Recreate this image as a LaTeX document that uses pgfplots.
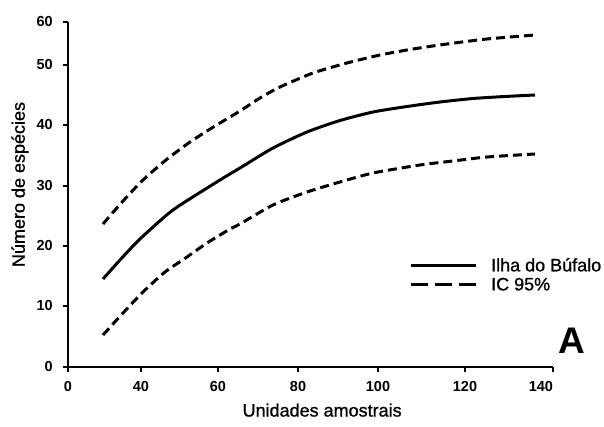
\documentclass[border=0pt]{standalone}
\usepackage{fontspec}
\setmainfont{Liberation Sans}
\newfontfamily\labelfont[FakeBold=1]{Liberation Sans}
\usepackage{pgfplots}
\pgfplotsset{compat=1.18}
\begin{document}
\begin{tikzpicture}
\begin{axis}[
  scale only axis, width=485pt, height=345pt,
  xmin=0, xmax=485, ymin=0, ymax=345,
  clip=false,
  axis x line*=bottom, axis y line*=left,
  axis line style={line width=2.5pt, -},
  tick style={line width=1.4pt, black},
  major tick length=5pt, tick align=outside,
  xtick={0,73,150,230,310,397,485},
  xticklabels={0,40,60,80,100,120,{\makebox[0pt][r]{140}}},
  ytick={0,61,121,181,242,302,345},
  yticklabels={0,10,20,30,40,50,60},
  ticklabel style={font=\fontsize{14.5}{15}\selectfont\bfseries, inner sep=0pt},
  xticklabel shift=9pt, yticklabel shift=10pt,
  xlabel={Unidades amostrais},
  ylabel={Número de espécies},
  every axis x label/.style={at={(axis description cs:0.524,-0.125)}, anchor=center, font=\fontsize{18}{18}\labelfont},
  every axis y label/.style={at={(axis description cs:-0.099,0.529)}, rotate=90, anchor=center, font=\fontsize{18}{18}\labelfont},
  legend style={at={(axis description cs:0.703,0.2667)}, anchor=west, draw=none, fill=none, inner sep=0pt,
    row sep=5pt, column sep=14pt, font=\fontsize{18}{18}\labelfont, nodes={inner sep=0pt}},
  legend cell align=left,
  legend image code/.code={\draw[#1] (0pt,0pt) -- (65pt,0pt);},
]
% upper 95% CI
\addplot[black, line width=3pt, dash pattern=on 9pt off 5pt, smooth, tension=0.4, forget plot] coordinates {
(35,143) (55,166) (75,187) (98,207) (122,225) (147,241) (172,256) (192,269) (212,280)
(245,294) (279,304) (312,312) (345,318) (379,323) (419,328) (467,332)};
% mean curve
\addplot[black, line width=3pt, smooth, tension=0.4, forget plot] coordinates {
(35,88) (52,107) (72,128) (105,157) (152,187) (172,199) (205,219) (239,235) (272,246.5)
(305,255) (339,260.5) (372,265) (405,268.5) (437,270.5) (467,272)};
% lower 95% CI
\addplot[black, line width=3pt, dash pattern=on 9pt off 5pt, smooth, tension=0.4, forget plot] coordinates {
(35,32) (55,54) (75,75) (97,95) (119,110) (139,124) (162,138) (172,143) (205,162)
(239,175) (272,185) (305,194) (352,202) (385,206) (419,210) (467,213)};
\addlegendimage{black, line width=3pt}
\addlegendentry{Ilha do Búfalo}
\addlegendimage{black, line width=3pt, dash pattern=on 17pt off 7pt}
\addlegendentry{IC 95\%}
\node[font=\fontsize{37}{37}\selectfont\bfseries] at (axis cs:504,26) {A};
\coordinate (bl) at (rel axis cs:0,0);
\end{axis}
\pgfresetboundingbox
\path[use as bounding box] (bl) ++(-68pt,-60pt) rectangle ++(604pt,427pt);
\end{tikzpicture}
\end{document}
